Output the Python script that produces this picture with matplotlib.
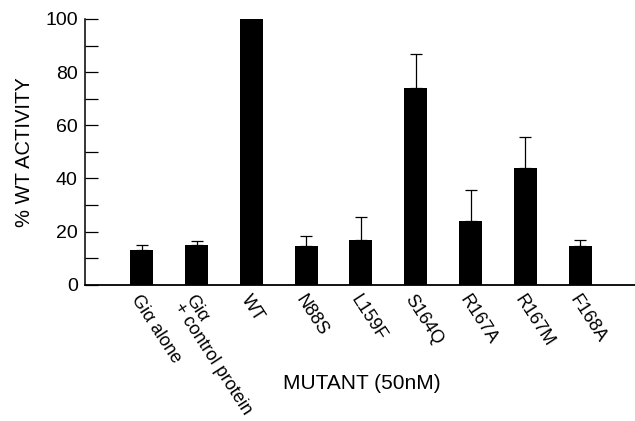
import matplotlib
matplotlib.use("Agg")
import matplotlib.pyplot as plt
import numpy as np

plt.rcParams['font.family'] = ['Liberation Sans', 'DejaVu Sans']

labels = ['Gi\u03b1 alone', 'Gi\u03b1\n+ control protein', 'WT', 'N88S', 'L159F',
          'S164Q', 'R167A', 'R167M', 'F168A']
activity = [13.2, 14.9, 100, 14.7, 16.7, 74.2, 23.9, 44.1, 14.7]
errors = [1.6, 1.4, 0, 3.8, 8.7, 12.5, 11.6, 11.5, 2.0]

fig = plt.figure(figsize=(6.35, 4.21), dpi=100)
ax = fig.add_axes([0.1334, 0.3238, 0.8666, 0.6311])

x = np.arange(len(labels))
ax.bar(x, activity, width=0.42, color='black', zorder=2)
# only the upper half of each error bar is drawn
ax.errorbar(x, activity, yerr=[np.zeros(len(errors)), errors], fmt='none',
            ecolor='black', elinewidth=0.9, capsize=4.5, capthick=0.9, zorder=1)

ax.set_xlim(-1.04, 9.0)
ax.set_ylim(0, 100)
ax.spines['top'].set_visible(False)
ax.spines['right'].set_visible(False)
ax.spines['left'].set_linewidth(1.1)
ax.spines['bottom'].set_linewidth(1.3)

ax.set_yticks([0, 20, 40, 60, 80, 100])
ax.set_yticks([10, 30, 50, 70, 90], minor=True)
ax.tick_params(axis='y', which='both', direction='in', length=9.5, width=0.9,
               labelsize=14, pad=5)
ax.tick_params(axis='x', length=0, pad=5)
ax.set_xticks(x)
ax.set_xticklabels(labels, rotation=-57, ha='left', va='top',
                   rotation_mode='anchor', fontsize=13, linespacing=0.85)

ax.set_ylabel('% WT ACTIVITY', fontsize=14.5, labelpad=8)
fig.text(0.57, 0.088, 'MUTANT (50nM)', ha='center', va='center', fontsize=15)

fig.savefig('out.png', dpi=100)
